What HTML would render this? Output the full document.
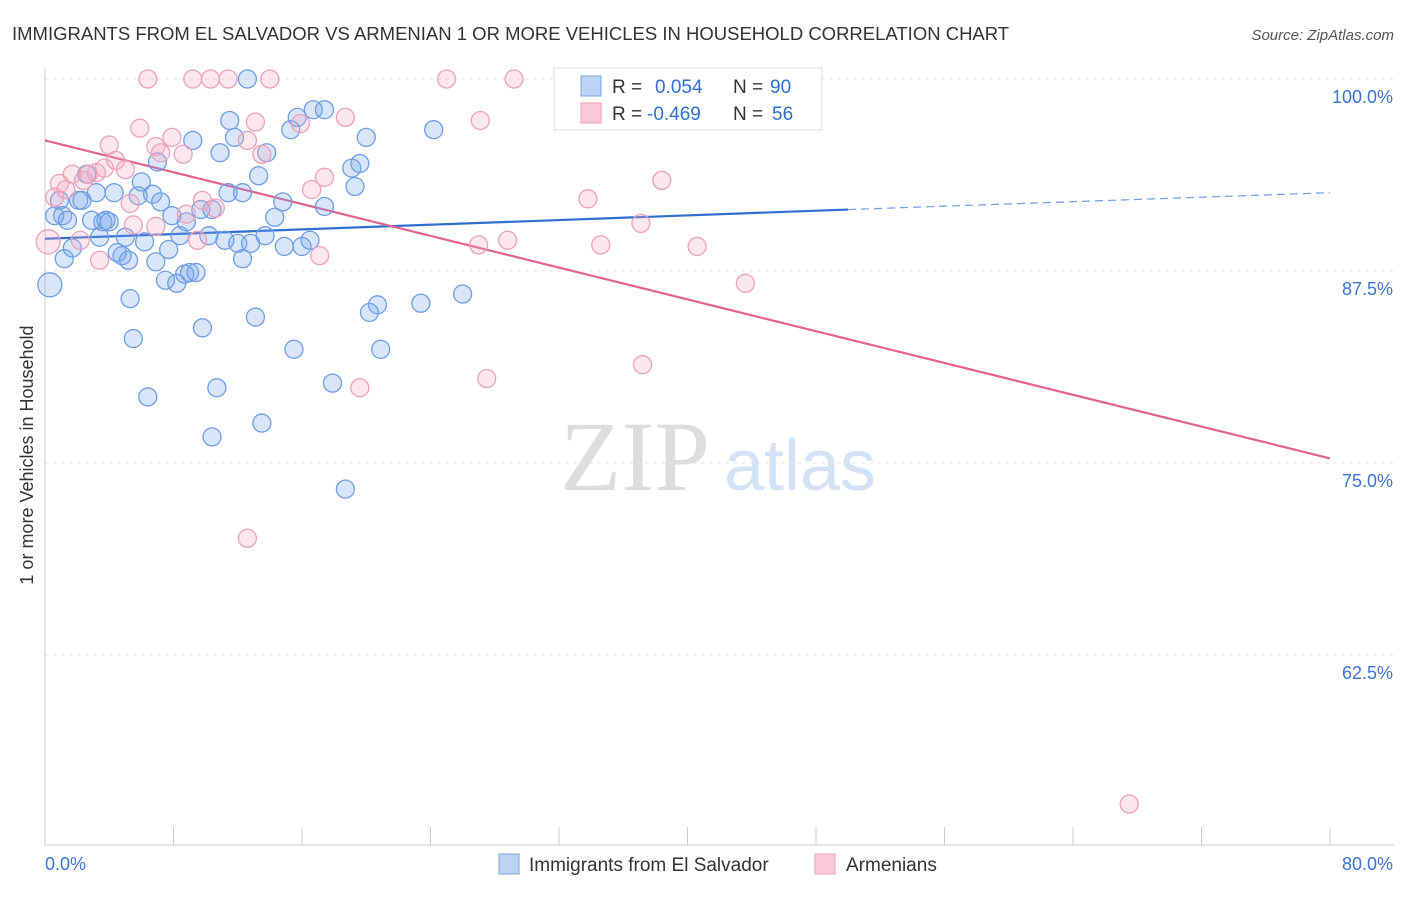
<!DOCTYPE html>
<html><head><meta charset="utf-8"><style>
body{margin:0;background:#fff;font-family:"Liberation Sans",sans-serif;}
svg text{font-family:"Liberation Sans",sans-serif;}
</style></head><body>
<svg id="chart" width="1406" height="892">
<text x="12" y="40" font-size="18.5" fill="#333">IMMIGRANTS FROM EL SALVADOR VS ARMENIAN 1 OR MORE VEHICLES IN HOUSEHOLD CORRELATION CHART</text>
<text x="1394" y="40" font-size="15" fill="#555" font-style="italic" text-anchor="end">Source: ZipAtlas.com</text>
<text transform="translate(33,455) rotate(-90)" font-size="18" fill="#333" text-anchor="middle">1 or more Vehicles in Household</text>
<g>
<text x="635" y="490" font-size="100" fill="#ddd" text-anchor="middle" style="font-family:'Liberation Serif',serif">ZIP</text>
<text x="800" y="490" font-size="72" fill="#d4e2f5" text-anchor="middle">atlas</text>
</g>
<g id="grid"></g><g id="axes"></g><g id="trend"></g><g id="points"></g>
<g>
<rect x="554" y="68" width="268" height="62" fill="#fff" stroke="#ddd"/>
<rect x="581" y="76" width="20" height="20" fill="#bcd3f5" stroke="#7aa5e5"/>
<text x="612" y="93" font-size="19" fill="#333">R = </text><text x="655" y="93" font-size="19" fill="#2f6fd0">0.054</text>
<text x="733" y="93" font-size="19" fill="#333">N = </text><text x="770" y="93" font-size="19" fill="#2f6fd0">90</text>
<rect x="581" y="103" width="20" height="20" fill="#f9c9d8" stroke="#eba2ba"/>
<text x="612" y="120" font-size="19" fill="#333">R = </text><text x="647" y="120" font-size="19" fill="#2f6fd0">-0.469</text>
<text x="733" y="120" font-size="19" fill="#333">N = </text><text x="772" y="120" font-size="19" fill="#2f6fd0">56</text>
</g>
<g>
<rect x="499" y="854" width="20" height="20" fill="#bcd3f5" stroke="#7aa5e5"/>
<text x="529" y="871" font-size="19" fill="#333">Immigrants from El Salvador</text>
<rect x="815" y="854" width="20" height="20" fill="#f9c9d8" stroke="#eba2ba"/>
<text x="846" y="871" font-size="19" fill="#333">Armenians</text>
</g>
</svg>
<script>
const yTicks=[100,87.5,75,62.5];
const yTickLabels=["100.0%","87.5%","75.0%","62.5%"];
const xTickLabels=["0.0%","80.0%"];
const blueX=[0.3,0.6,0.9,1.1,1.2,1.4,1.7,2.1,2.3,2.6,2.9,3.2,3.4,3.6,3.8,4.0,4.3,4.5,4.8,5.0,5.2,5.3,5.5,5.8,6.0,6.2,6.4,6.7,6.9,7.0,7.2,7.5,7.7,7.9,8.2,8.4,8.7,8.8,9.0,9.2,9.4,9.7,9.8,10.2,10.4,10.4,10.7,10.9,11.2,11.4,11.5,11.8,12.0,12.3,12.3,12.8,13.1,13.3,13.5,13.7,13.8,14.3,14.8,14.9,15.3,15.5,15.7,16.0,16.5,16.7,17.4,17.4,17.9,18.7,19.1,19.3,19.6,20.0,20.2,20.7,20.9,23.4,24.2,26.0,12.6];
const blueY=[86.6,91.1,92.1,91.1,88.3,90.8,89.0,92.1,92.1,93.8,90.8,92.6,89.7,90.7,90.8,90.7,92.6,88.7,88.5,89.7,88.2,85.7,83.1,92.4,93.3,89.4,79.3,92.5,88.1,94.6,92.0,86.9,88.9,91.1,86.7,89.8,87.3,90.7,87.4,96.0,87.4,91.5,83.8,89.8,91.5,76.7,79.9,95.2,89.5,92.6,97.3,96.2,89.3,92.6,88.3,89.3,84.5,93.7,77.6,89.8,95.2,91.0,92.0,89.1,96.7,82.4,97.5,89.1,89.5,98.0,98.0,91.7,80.2,73.3,94.2,93.0,94.5,96.2,84.8,85.3,82.4,85.4,96.7,86.0,100];
const pinkX=[0.2,0.6,0.9,1.3,1.7,2.2,2.4,2.7,3.2,3.4,3.7,4.0,4.4,5.0,5.3,5.5,5.9,6.4,6.9,6.9,7.2,7.9,8.6,8.8,9.2,9.5,9.8,10.3,10.6,11.4,12.6,13.1,13.5,14.0,15.9,16.6,17.1,17.4,18.7,19.6,25.0,27.0,27.1,27.5,28.8,29.2,32.7,33.8,34.6,37.1,37.2,38.4,40.6,43.6,67.5,12.6];
const pinkY=[89.4,92.3,93.2,92.8,93.8,89.5,93.4,93.8,93.9,88.2,94.2,95.7,94.7,94.1,91.9,90.5,96.8,100,95.6,90.4,95.2,96.2,95.1,91.2,100,89.5,92.1,100,91.6,100,96.0,97.2,95.1,100,97.1,92.8,88.5,93.6,97.5,79.9,100,89.2,97.3,80.5,89.5,100,100,92.2,89.2,90.6,81.4,93.4,89.1,86.7,52.8,70.1];
const blueTrend=[[0,89.6],[50,91.5],[80,92.6]];
const pinkTrend=[[0,96.0],[80,75.3]];
const X=v=>45+v/80*1285, Y=v=>79+(100-v)/12.5*192;
const NS="http://www.w3.org/2000/svg";
function mk(t,a,p){const e=document.createElementNS(NS,t);for(const k in a)e.setAttribute(k,a[k]);p.appendChild(e);return e;}
const grid=document.getElementById('grid'),axes=document.getElementById('axes'),tr=document.getElementById('trend'),pts=document.getElementById('points');
yTicks.forEach((t,i)=>{const l=mk('line',{x1:45,x2:1394,y1:Y(t),y2:Y(t),stroke:'#e3e3e3','stroke-dasharray':'4,4'},grid);


const tx=mk('text',{x:1393,y:Y(t)+24,'font-size':18,fill:'#3b74d4','text-anchor':'end'},axes);tx.textContent=yTickLabels[i];

});
mk('line',{x1:45,x2:45,y1:68,y2:845,stroke:'#ccc'},axes);
mk('line',{x1:45,x2:1394,y1:845,y2:845,stroke:'#ccc'},axes);
for(let i=0;i<=10;i++){mk('line',{x1:X(i*8),x2:X(i*8),y1:827,y2:845,stroke:'#ccc'},axes);}
[[0,'start',45],[80,'end',1393]].forEach((d,i)=>{const t=mk('text',{x:d[2],y:870,'font-size':18,fill:'#3b74d4','text-anchor':d[1]},axes);t.textContent=xTickLabels[i];

});
function dot(x,y,big,c,f){const e=mk('circle',{cx:X(x),cy:Y(y),r:big?12:9,fill:f,stroke:c,'stroke-width':1.3},pts);return e;}
blueX.forEach((x,i)=>{const e=dot(x,blueY[i],i==0,'#6e9ee6','rgba(120,165,235,0.28)');

});
pinkX.forEach((x,i)=>{const e=dot(x,pinkY[i],i==0,'#eba2ba','rgba(245,170,195,0.28)');

});
let b1=mk('line',{x1:X(blueTrend[0][0]),y1:Y(blueTrend[0][1]),x2:X(blueTrend[1][0]),y2:Y(blueTrend[1][1]),stroke:'#2f6fd0','stroke-width':2.2},tr);


let b2=mk('line',{x1:X(blueTrend[1][0]),y1:Y(blueTrend[1][1]),x2:X(blueTrend[2][0]),y2:Y(blueTrend[2][1]),stroke:'#6e9ee6','stroke-width':1.2,'stroke-dasharray':'8,5'},tr);


let p1=mk('line',{x1:X(pinkTrend[0][0]),y1:Y(pinkTrend[0][1]),x2:X(pinkTrend[1][0]),y2:Y(pinkTrend[1][1]),stroke:'#e4628f','stroke-width':2.2},tr);


</script>
</body></html>
